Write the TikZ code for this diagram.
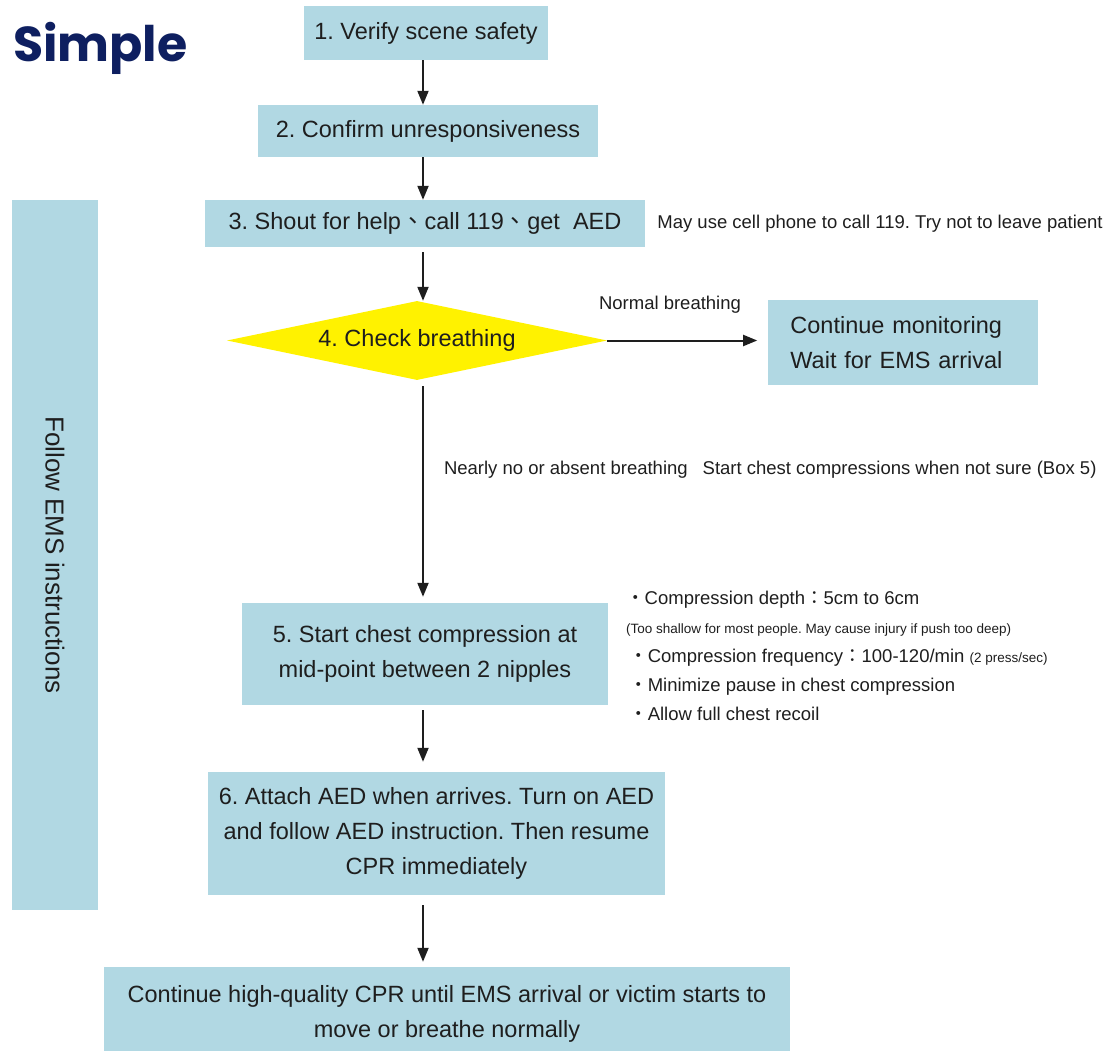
\documentclass[tikz,border=0pt]{standalone}
\usepackage{fontspec}
\setmainfont{Liberation Sans}
\newfontfamily\cjk{Noto Sans CJK TC}
\newfontfamily\titlefont{Poppins}
\usetikzlibrary{positioning, shapes.geometric, arrows.meta}
\frenchspacing

\definecolor{boxblue}{RGB}{177,216,227}
\definecolor{navytitle}{RGB}{14,31,96}
\definecolor{inkdark}{RGB}{30,30,30}

\newcommand{\jdot}{{\cjk 、}}
\newcommand{\jbul}{{\cjk ・}}
\newcommand{\jcolon}{{\cjk ：}}

\tikzset{
  stepbox/.style={fill=boxblue, text=inkdark, align=center, inner sep=0pt,
    font=\fontsize{23.5}{35}\selectfont},
  decision/.style={diamond, aspect=4.8, fill=yellow, text=inkdark, inner sep=0pt,
    font=\fontsize{23.5}{35}\selectfont},
  note/.style={text=inkdark, inner sep=0pt, font=\fontsize{18.5}{29}\selectfont},
  arr/.style={-{Triangle[length=14pt,width=11pt]}, line width=2pt, draw=inkdark},
}

\begin{document}
\begin{tikzpicture}[x=1pt, y=-1pt]
	\useasboundingbox (0,0) rectangle (1109,1051);
	\clip (0,0) rectangle (1109,1051);
	\coordinate (spine) at (423,0);
	\node[font=\titlefont\bfseries\fontsize{49}{56}\selectfont, text=navytitle, anchor=base west, inner sep=0pt] (title) at (13,62) {Simple};
	% main column
	\node[stepbox, minimum width=244pt, minimum height=54pt] (b1) at (426,33) {1. Verify scene safety};
	\node[stepbox, minimum width=340pt, minimum height=52pt] (b2) at (428,131) {2. Confirm unresponsiveness};
	\node[stepbox, minimum width=440pt, minimum height=47pt] (b3) at (425,223.5) {3. Shout for help\jdot call 119\jdot get\ \ AED};
	\node[note, right=12pt of b3] (n3) {May use cell phone to call 119. Try not to leave patient};
	\node[decision, minimum width=380pt, minimum height=79pt] (d4) at (417,340.5) {4. Check breathing};
	\node[stepbox, right=161pt of d4, yshift=-2pt, minimum width=270pt, minimum height=85pt, text width=226pt, align=left, inner xsep=22pt] (mon) {Continue monitoring\\Wait for EMS arrival};
	\node[stepbox, minimum width=366pt, minimum height=102pt] (b5) at (425,654) {5. Start chest compression at\\mid-point between 2 nipples};
	\node[note, anchor=north west, align=left] (tips) at (626,591) {\jbul Compression depth\jcolon 5cm to 6cm\\
		{\fontsize{13.5}{29}\selectfont (Too shallow for most people. May cause injury if push too deep)}\\
		\,\jbul Compression frequency\jcolon 100-120/min {\fontsize{13.5}{29}\selectfont (2 press/sec)}\\
		\,\jbul Minimize pause in chest compression\\
		\,\jbul Allow full chest recoil};
	\node[stepbox, minimum width=457pt, minimum height=123pt] (b6) at (436.5,833.5) {6. Attach AED when arrives. Turn on AED\\and follow AED instruction. Then resume\\CPR immediately};
	\node[stepbox, minimum width=686pt, minimum height=93pt] (b7) at (447,1013.5) {Continue high-quality CPR until EMS arrival or victim starts to\\move or breathe normally};
	% side bar
	\node[stepbox, rotate=-90, minimum width=710pt, minimum height=86pt, font=\fontsize{26}{30}\selectfont] (ems) at (55,555) {Follow EMS instructions};
	% arrows
	\draw[arr] (b1.south -| spine) -- (b2.north -| spine);
	\draw[arr] (b2.south -| spine) -- (b3.north -| spine);
	\draw[arr, shorten <=5pt] (b3.south -| spine) -- (d4.north -| spine);
	\draw[arr, shorten >=11pt] (d4.east) -- (d4.east -| mon.west) node[note, pos=0.39, yshift=36pt] (lblnormal) {Normal breathing};
	\draw[arr, shorten <=6pt, shorten >=6pt] (d4.south -| spine) -- (b5.north -| spine) node[note, pos=0.40, anchor=west, xshift=20pt] (lblno) {Nearly no or absent breathing\hspace{15pt}Start chest compressions when not sure (Box 5)};
	\draw[arr, shorten <=5pt, shorten >=10pt] (b5.south -| spine) -- (b6.north -| spine);
	\draw[arr, shorten <=10pt, shorten >=5pt] (b6.south -| spine) -- (b7.north -| spine);
\end{tikzpicture}
\end{document}
